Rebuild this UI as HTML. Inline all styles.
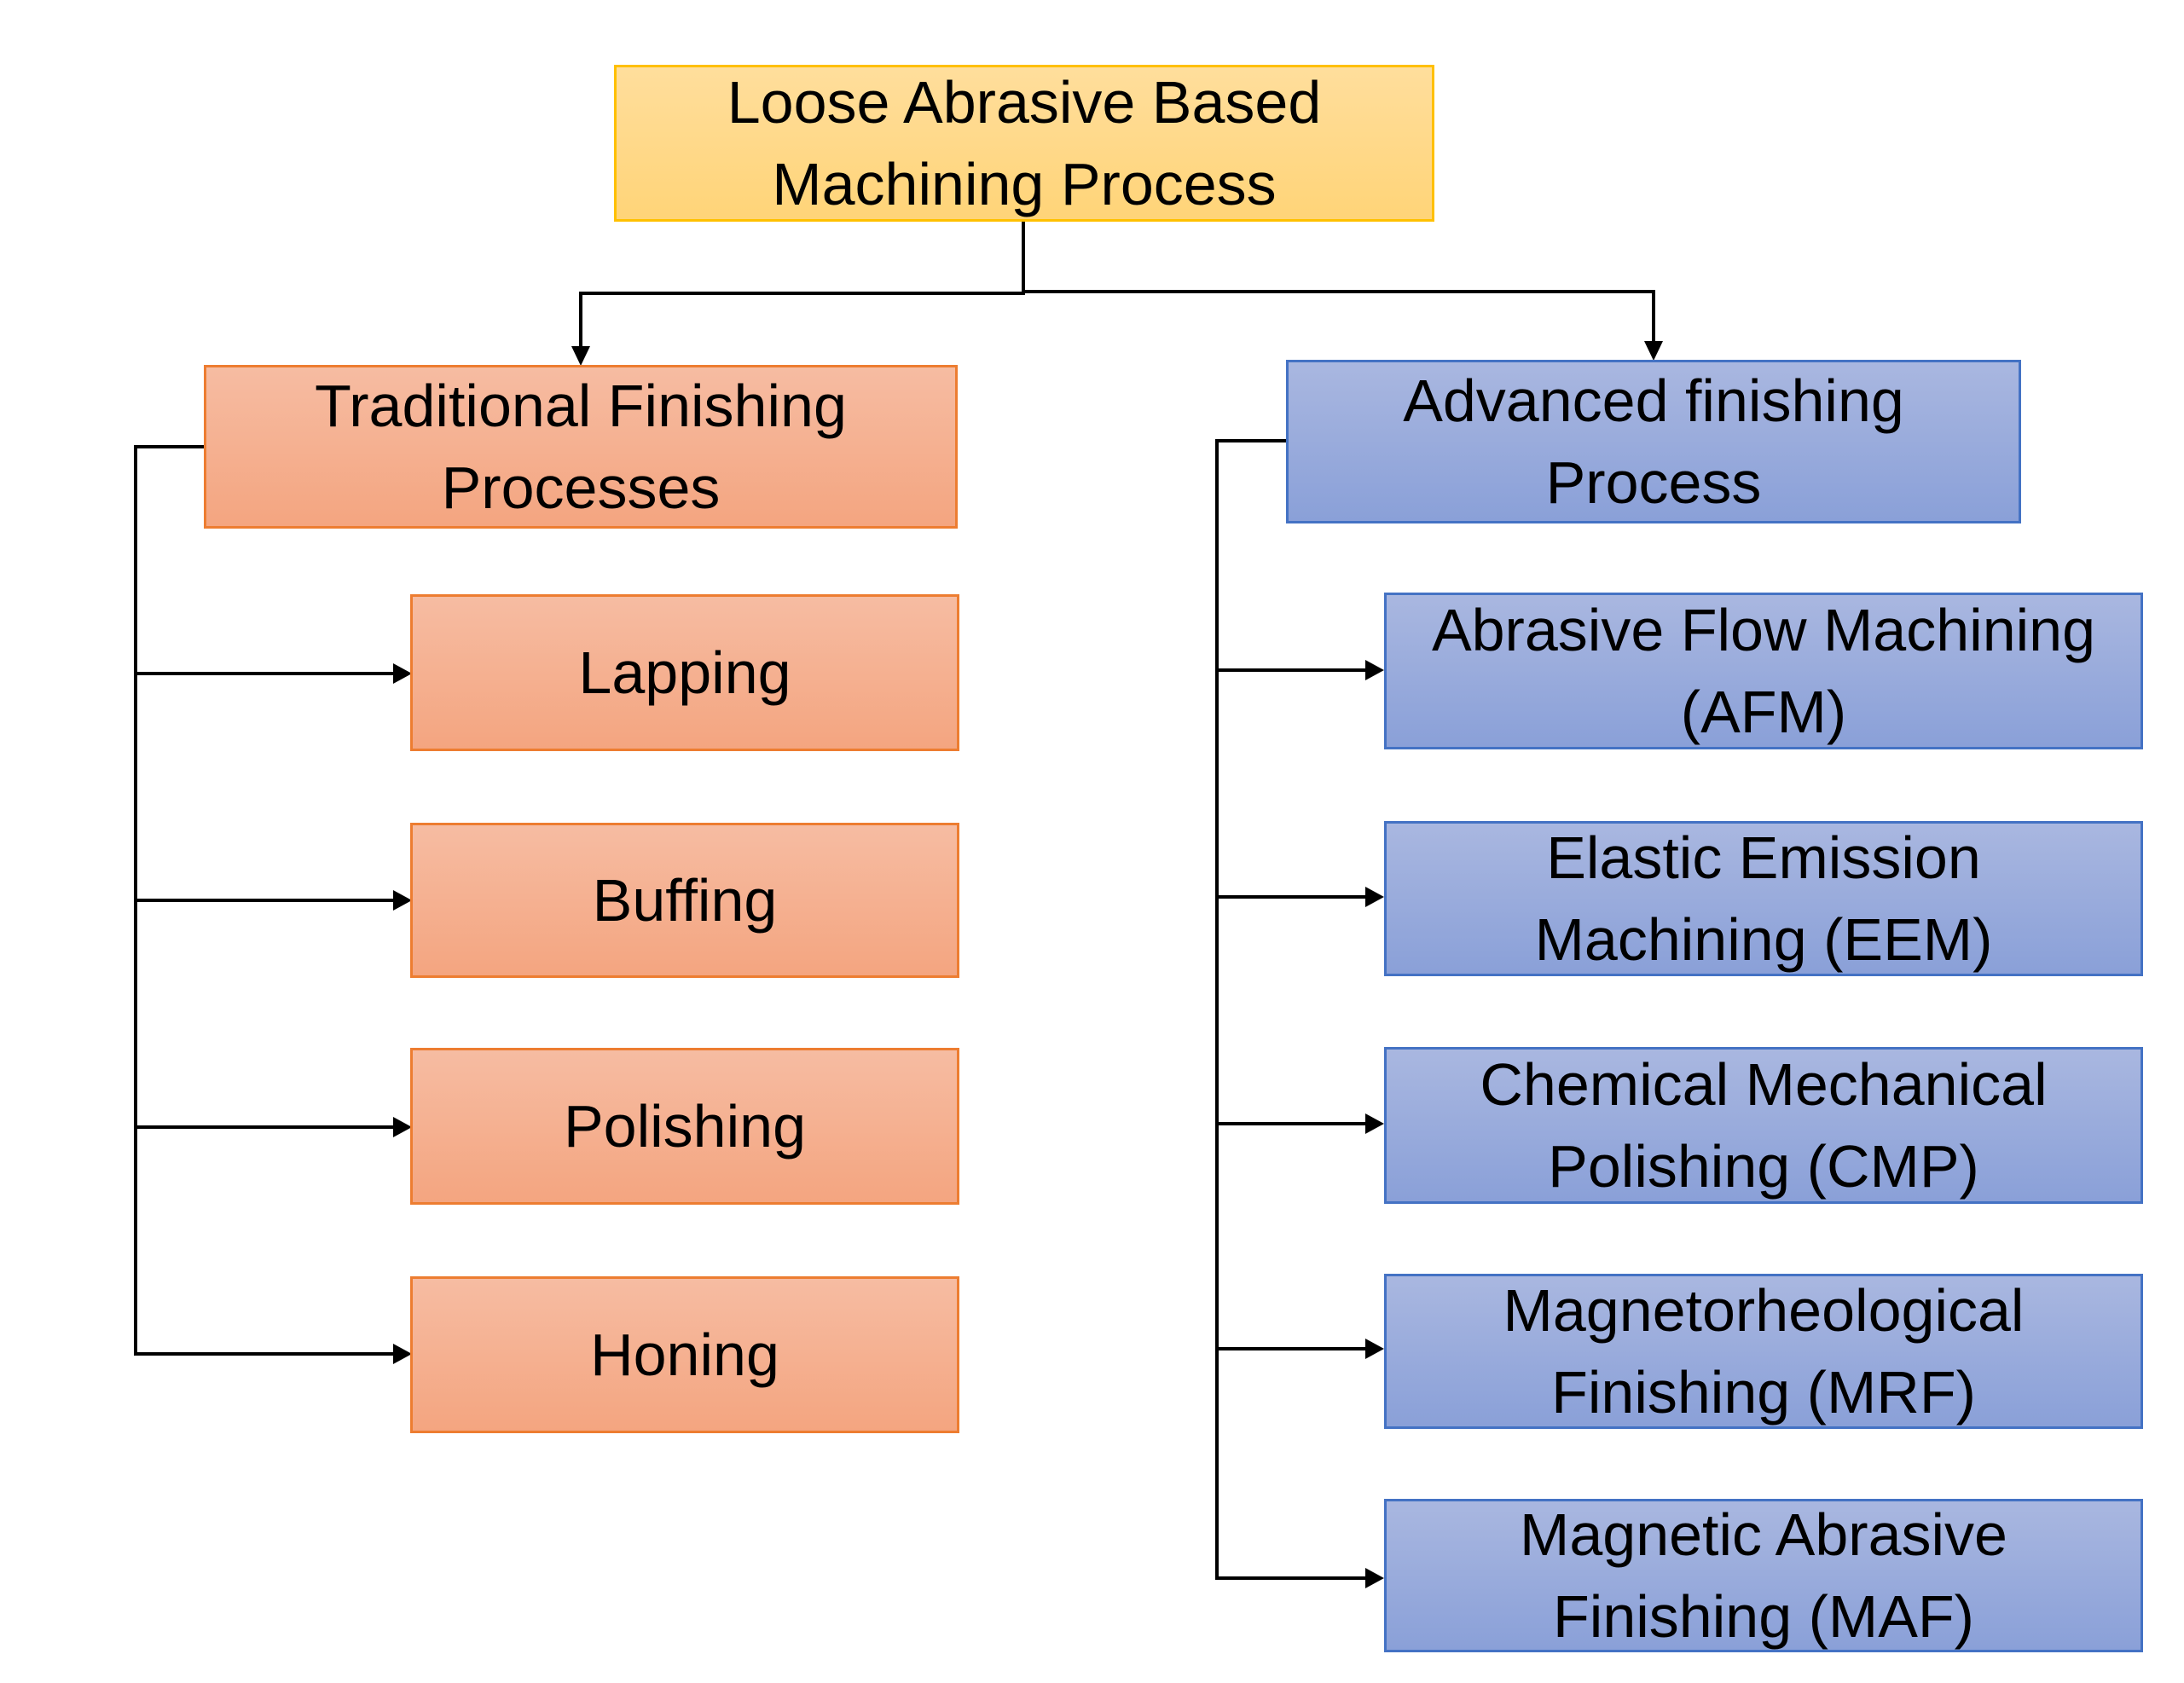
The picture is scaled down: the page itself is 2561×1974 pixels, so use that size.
<!DOCTYPE html>
<html><head><meta charset="utf-8"><style>
html,body{margin:0;padding:0;background:#fff;}
body{width:2561px;height:1974px;position:relative;overflow:hidden;font-family:"Liberation Sans",sans-serif;}
.b{position:absolute;box-sizing:border-box;border:3px solid;display:flex;align-items:center;justify-content:center;text-align:center;font-size:70px;line-height:96px;color:#000;}
.y{background:linear-gradient(#FFDE9C,#FFD478);border-color:#FFC000;}
.o{background:linear-gradient(#F6BCA2,#F4A580);border-color:#ED7D31;}
.u{background:linear-gradient(#A9B7E0,#8AA0D8);border-color:#4472C4;}
svg{position:absolute;left:0;top:0;}
</style></head><body>
<svg width="2561" height="1974">
<g stroke="#000" stroke-width="4" fill="none">
<polyline points="1200,259 1200,344 681,344 681,410"/>
<polyline points="1200,342 1939,342 1939,404"/>
<polyline points="241,524 159,524 159,1588 464,1588"/>
<line x1="159" y1="790" x2="464" y2="790"/>
<line x1="159" y1="1056" x2="464" y2="1056"/>
<line x1="159" y1="1322" x2="464" y2="1322"/>
<polyline points="1510,517 1427,517 1427,1851 1604,1851"/>
<line x1="1427" y1="786" x2="1604" y2="786"/>
<line x1="1427" y1="1052" x2="1604" y2="1052"/>
<line x1="1427" y1="1318" x2="1604" y2="1318"/>
<line x1="1427" y1="1582" x2="1604" y2="1582"/>
</g>
<g fill="#000">
<polygon points="670,406 692,406 681,429"/>
<polygon points="1928,400 1950,400 1939,423"/>
<polygon points="461,778 461,802 483,790"/>
<polygon points="461,1044 461,1068 483,1056"/>
<polygon points="461,1310 461,1334 483,1322"/>
<polygon points="461,1576 461,1600 483,1588"/>
<polygon points="1601,774 1601,798 1623,786"/>
<polygon points="1601,1040 1601,1064 1623,1052"/>
<polygon points="1601,1306 1601,1330 1623,1318"/>
<polygon points="1601,1570 1601,1594 1623,1582"/>
<polygon points="1601,1839 1601,1863 1623,1851"/>
</g>
</svg>
<div class="b y" style="left:720px;top:76px;width:962px;height:184px;">Loose Abrasive Based<br>Machining Process</div>
<div class="b o" style="left:239px;top:428px;width:884px;height:192px;">Traditional Finishing<br>Processes</div>
<div class="b u" style="left:1508px;top:422px;width:862px;height:192px;">Advanced finishing<br>Process</div>
<div class="b o" style="left:481px;top:697px;width:644px;height:184px;">Lapping</div>
<div class="b o" style="left:481px;top:965px;width:644px;height:182px;">Buffing</div>
<div class="b o" style="left:481px;top:1229px;width:644px;height:184px;">Polishing</div>
<div class="b o" style="left:481px;top:1497px;width:644px;height:184px;">Honing</div>
<div class="b u" style="left:1623px;top:695px;width:890px;height:184px;">Abrasive Flow Machining<br>(AFM)</div>
<div class="b u" style="left:1623px;top:963px;width:890px;height:182px;">Elastic Emission<br>Machining (EEM)</div>
<div class="b u" style="left:1623px;top:1228px;width:890px;height:184px;">Chemical Mechanical<br>Polishing (CMP)</div>
<div class="b u" style="left:1623px;top:1494px;width:890px;height:182px;">Magnetorheological<br>Finishing (MRF)</div>
<div class="b u" style="left:1623px;top:1758px;width:890px;height:180px;">Magnetic Abrasive<br>Finishing (MAF)</div>
</body></html>
